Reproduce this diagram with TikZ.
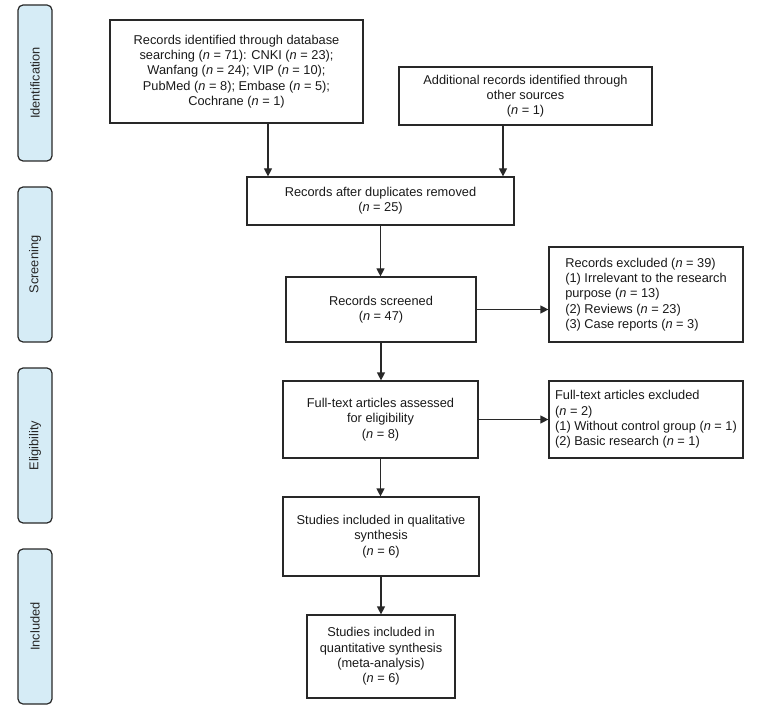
\documentclass[tikz,border=0pt]{standalone}
\usepackage{fontspec}
\setmainfont{Liberation Sans}
\usetikzlibrary{arrows.meta}
\definecolor{sidefill}{RGB}{214,236,246}
\definecolor{linec}{RGB}{40,40,40}
\newcommand\nn{\textit{n}}
\begin{document}
\begin{tikzpicture}[x=1pt,y=-1pt,
  box/.style={draw=linec,line width=1.2pt,minimum width=#1,inner sep=0pt,align=center,font=\fontsize{12.8}{15.3}\selectfont,text=black!90},
  lbox/.style={box=#1,align=left},
  side/.style={draw=linec,line width=1.2pt,fill=sidefill,rounded corners=5pt,minimum width=34pt,minimum height=155pt,inner sep=0pt},
  sidetext/.style={rotate=90,font=\fontsize{12.8}{14}\selectfont,text=black!85},
  arr/.style={draw=linec,line width=1.2pt,-{Triangle[length=8pt,width=8pt]}}]
\useasboundingbox (0,0) rectangle (758,714);
% side labels
\node[side,minimum height=156pt] (sid) at (35,83) {};
\node[sidetext] (sidt) at (sid.center) {Identification};
\node[side] (ssc) at (35,264.5) {};
\node[sidetext] (ssct) at (ssc.center) {Screening};
\node[side] (sel) at (35,445.5) {};
\node[sidetext] (selt) at (sel.center) {Eligibility};
\node[side] (sin) at (35,626.5) {};
\node[sidetext] (sint) at (sin.center) {Included};
% boxes
\node[box=253pt,minimum height=103pt] (b1) at (236.5,71.5) {Records identified through database\\searching (\nn{} = 71): CNKI (\nn{} = 23);\\Wanfang (\nn{} = 24); VIP (\nn{} = 10);\\PubMed (\nn{} = 8); Embase (\nn{} = 5);\\Cochrane (\nn{} = 1)};
\node[box=253pt,minimum height=58pt] (b2) at (525.5,96) {Additional records identified through\\other sources\\(\nn{} = 1)};
\node[box=267pt,minimum height=48pt] (b3) at (380.5,201) {Records after duplicates removed\\(\nn{} = 25)};
\node[box=190pt,minimum height=65pt] (b4) at (381,309.5) {Records screened\\(\nn{} = 47)};
\node[lbox=194pt,minimum height=95pt] (b5) at (646,294.5) {Records excluded (\nn{} = 39)\\(1) Irrelevant to the research\\purpose (\nn{} = 13)\\(2) Reviews (\nn{} = 23)\\(3) Case reports (\nn{} = 3)};
\node[box=195pt,minimum height=77pt] (b6) at (380.5,419.5) {Full-text articles assessed\\for eligibility\\(\nn{} = 8)};
\node[lbox=194pt,minimum height=77pt] (b7) at (646,419.5) {Full-text articles excluded\\(\nn{} = 2)\\(1) Without control group (\nn{} = 1)\\(2) Basic research (\nn{} = 1)};
\node[box=196pt,minimum height=79pt] (b8) at (381,536.5) {Studies included in qualitative\\synthesis\\(\nn{} = 6)};
\node[box=148pt,minimum height=83pt] (b9) at (381,656.5) {Studies included in\\quantitative synthesis\\(meta-analysis)\\(\nn{} = 6)};
% connectors
\coordinate (xa) at (268,0);
\coordinate (xb) at (503,0);
\draw[arr] (b1.south -| xa) -- (b3.north -| xa);
\draw[arr] (b2.south -| xb) -- (b3.north -| xb);
\draw[arr] (b3.south) -- (b3.south |- b4.north);
\draw[arr] (b4.east) -- (b5.west |- b4.east);
\draw[arr] (b4.south) -- (b4.south |- b6.north);
\draw[arr] (b6.east) -- (b7.west);
\draw[arr] (b6.south) -- (b6.south |- b8.north);
\draw[arr] (b8.south) -- (b8.south |- b9.north);
\end{tikzpicture}
\end{document}
